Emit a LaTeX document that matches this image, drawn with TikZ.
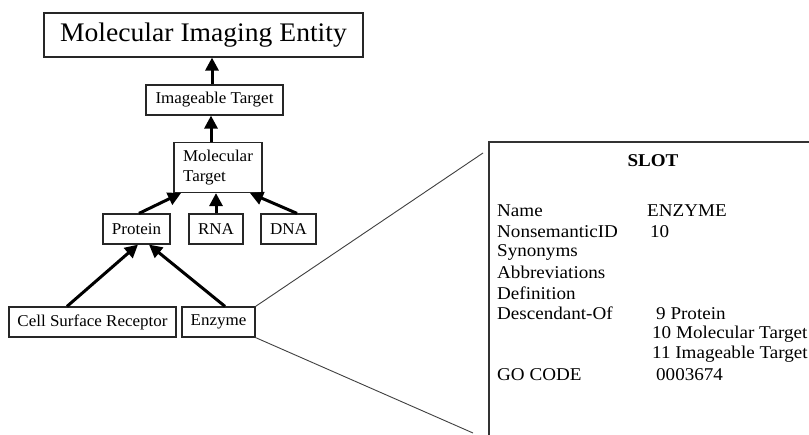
\documentclass[tikz,border=0pt]{standalone}
\usepackage{fontspec}
\setmainfont{Liberation Serif}
\newfontfamily\slotfont[FakeStretch=1.06]{Liberation Serif}
\newfontfamily\boxfont[FakeStretch=1.03]{Liberation Serif}
\usetikzlibrary{arrows.meta}
\begin{document}
\begin{tikzpicture}[x=1pt,y=-1pt,
  box/.style={draw=black!85,line width=1.2pt,inner sep=0pt,font=\boxfont\fontsize{16.5}{20}\selectfont},
  arr/.style={line width=3pt,-{Triangle[length=13pt,width=13pt]}},
  thin/.style={draw=black!75,line width=0.9pt},
  slottxt/.style={anchor=west,inner sep=0pt,font=\slotfont\fontsize{18}{20}\selectfont}]
\useasboundingbox (0,0) rectangle (809,435);
\fill[white] (0,0) rectangle (809,435);
% nodes
\node[box,minimum width=319pt,minimum height=44pt,font=\boxfont\fontsize{26.8}{30}\selectfont] (MIE) at (203.5,35) {Molecular Imaging Entity};
\node[box,minimum width=137pt,minimum height=30pt] (IT) at (214.5,100) {Imageable Target};
\node[box,minimum width=88pt,minimum height=50pt,align=left] (MT) at (218,167.5) {Molecular\\Target};
\node[box,minimum width=67pt,minimum height=30pt] (PR) at (136.5,229) {Protein};
\node[box,minimum width=54pt,minimum height=30pt] (RNA) at (216,229) {RNA};
\node[box,minimum width=55pt,minimum height=30pt] (DNA) at (288.5,229) {DNA};
\node[box,minimum width=167pt,minimum height=30pt] (CSR) at (92.5,322) {Cell Surface Receptor};
\node[box,minimum width=73pt,minimum height=30pt] (ENZ) at (218.5,322) {Enzyme};
% arrows
\coordinate (xa) at (212,0);
\coordinate (xb) at (211,0);
\draw[arr] (IT.north -| xa) -- (MIE.south -| xa);
\draw[arr] (MT.north -| xb) -- (IT.south -| xb);
\coordinate (p1) at (139,0); \coordinate (p2) at (181,0);
\draw[arr] (PR.north -| p1) -- (MT.south -| p2);
\coordinate (r1) at (216,0);
\draw[arr] (RNA.north -| r1) -- (MT.south -| r1);
\coordinate (d1) at (297,0); \coordinate (d2) at (250,0);
\draw[arr] (DNA.north -| d1) -- (MT.south -| d2);
\coordinate (c1) at (67,0); \coordinate (c2) at (138,0);
\draw[arr] (CSR.north -| c1) -- (PR.south -| c2);
\coordinate (e1) at (225,0); \coordinate (e2) at (149,0);
\draw[arr] (ENZ.north -| e1) -- (PR.south -| e2);
% slot panel
\coordinate (s1) at (483,153);
\coordinate (s2) at (473,433);
\draw[thin] (ENZ.north east) -- (s1);
\draw[thin] (ENZ.south east) -- (s2);
\draw[draw=black!80,line width=1.3pt] (489,440) -- (489,142) -- (815,142);
\node[inner sep=0pt,font=\slotfont\bfseries\fontsize{18}{20}\selectfont] (slot) at (653,161) {SLOT};
\foreach \t [count=\i from 0] in {Name,NonsemanticID,Synonyms,Abbreviations,Definition,Descendant-Of,,,GO CODE}
  \node[slottxt] (l\i) at (497,211+20.5*\i) {\t};
\node[slottxt] (v0) at (647,211) {ENZYME};
\node[slottxt] (v1) at (650,231.5) {10};
\node[slottxt] (v5) at (656,313.5) {9 Protein};
\node[slottxt] (v6) at (652,334) {10 Molecular Target};
\node[slottxt] (v7) at (652,354.5) {11 Imageable Target};
\node[slottxt] (v8) at (656,375) {0003674};
\end{tikzpicture}
\end{document}
